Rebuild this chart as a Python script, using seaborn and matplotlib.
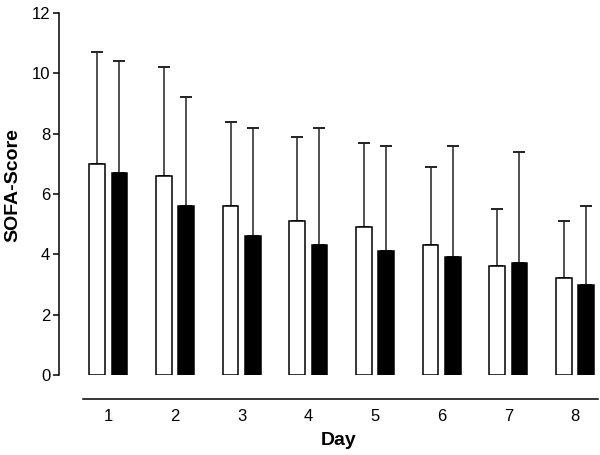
import matplotlib
matplotlib.use("Agg")
import matplotlib.pyplot as plt
import seaborn as sns
import pandas as pd

days = ["1", "2", "3", "4", "5", "6", "7", "8"]
group_a_mean = [7.0, 6.6, 5.6, 5.1, 4.9, 4.3, 3.6, 3.2]
group_a_sd = [3.7, 3.6, 2.8, 2.8, 2.8, 2.6, 1.9, 1.9]
group_b_mean = [6.7, 5.6, 4.6, 4.3, 4.1, 3.9, 3.7, 3.0]
group_b_sd = [3.7, 3.6, 3.6, 3.9, 3.5, 3.7, 3.7, 2.6]
groups = ["A", "B"]
y_ticks = [0, 2, 4, 6, 8, 10, 12]

sns.set_style("white")
plt.rcParams["font.family"] = ["Liberation Sans", "DejaVu Sans"]
plt.rcParams["text.color"] = "black"
plt.rcParams["axes.labelcolor"] = "black"
plt.rcParams["xtick.color"] = "black"
plt.rcParams["ytick.color"] = "black"

df = pd.DataFrame({
    "Day": days * 2,
    "Score": group_a_mean + group_b_mean,
    "Group": [groups[0]] * len(days) + [groups[1]] * len(days),
})

fig = plt.figure(figsize=(6.0, 4.55), dpi=100)
ax = fig.add_axes([59/600, 80/455, 541/600, 362/455])

sns.barplot(data=df, x="Day", y="Score", hue="Group", order=days,
            hue_order=groups, palette=["white", "black"], width=0.667,
            gap=0.29, edgecolor="black", linewidth=1.1, errorbar=None,
            legend=False, ax=ax, zorder=2)

# error bars (upper SD only)
sds = group_a_sd + group_b_sd
bars = [p for p in ax.patches if p.get_height() > 0]
for p, sd in zip(bars, sds):
    xc = p.get_x() + p.get_width() / 2
    h = p.get_height()
    ax.errorbar([xc], [h], yerr=[[0], [sd]], fmt="none", ecolor="#222222",
                elinewidth=1.1, capsize=4.5, capthick=1.4, zorder=1)

ax.set_ylim(0, 12)
ax.set_xlim(-0.74, 7.375)
ax.set_yticks(y_ticks)
ax.set_yticklabels([str(t) for t in y_ticks], fontsize=12)

for s in ["top", "right"]:
    ax.spines[s].set_visible(False)
ax.spines["left"].set_color("black")
ax.spines["left"].set_linewidth(1.1)
ax.spines["bottom"].set_color("black")
ax.spines["bottom"].set_linewidth(1.1)
ax.spines["bottom"].set_position(("outward", 17.3))
ax.spines["bottom"].set_bounds(-0.38, 7.35)

ax.tick_params(axis="y", length=4.3, width=1.1, pad=2, color="black",
               labelcolor="black", left=True, direction="out")
ax.tick_params(axis="x", length=0, pad=7, labelsize=12, labelcolor="black")

ax.set_xlabel("Day", fontsize=14, fontweight="bold", va="center", color="black")
ax.xaxis.set_label_coords(0.517, -0.18)
ax.set_ylabel("SOFA-Score", fontsize=14, fontweight="bold", va="center", color="black")
ax.yaxis.set_label_coords(-0.085, 0.525)

fig.savefig("out.png", dpi=100)
